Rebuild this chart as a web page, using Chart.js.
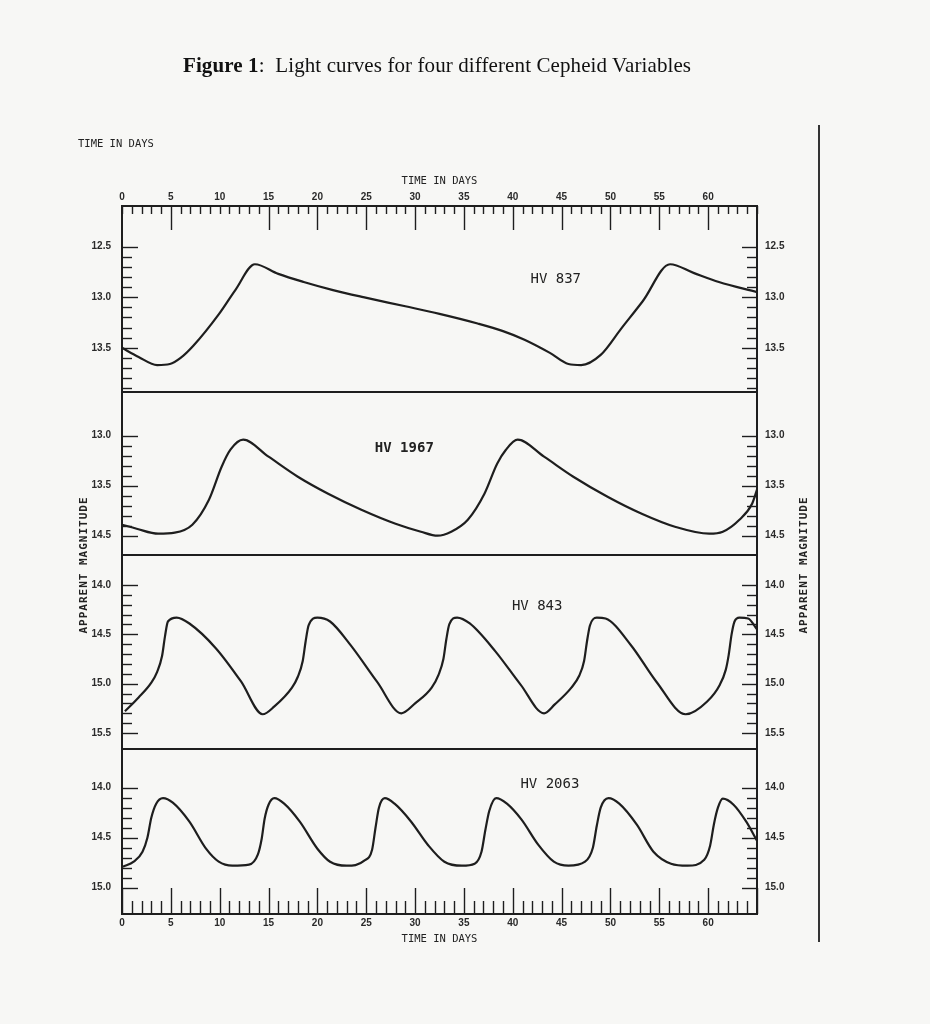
<!DOCTYPE html>
<html>
<head>
<meta charset="utf-8">
<script src="https://cdn.jsdelivr.net/npm/chart.js"></script>
<style>
  body { margin: 0; background: #f7f7f5; }
  #page { position: relative; width: 930px; height: 1024px; overflow: hidden; }
  #c { position: absolute; left: 0; top: 0; }
  .title { position: absolute; left: 183px; top: 53px; font-family: "Liberation Serif", serif; font-size: 21px; letter-spacing: 0.1px; color: #111; white-space: nowrap; }
  .corner { position: absolute; left: 78px; top: 137px; font: 10.5px "DejaVu Sans Mono", monospace; color: #222; }
  .vtitle { position: absolute; width: 150px; height: 14px; line-height: 14px; text-align: center; font: bold 11px "DejaVu Sans Mono", monospace; letter-spacing: 1px; color: #222; transform: rotate(-90deg); white-space: nowrap; }
  .rule { position: absolute; left: 818px; top: 125px; width: 1.5px; height: 817px; background: #333; }
</style>
</head>
<body>
<div id="page">
  <canvas id="c" width="930" height="1024"></canvas>
  <div class="title"><b>Figure 1</b>:&nbsp; Light curves for four different Cepheid Variables</div>
  <div class="corner">TIME IN DAYS</div>
  <div class="vtitle" style="left:9px; top:558px;">APPARENT MAGNITUDE</div>
  <div class="vtitle" style="left:729px; top:558px;">APPARENT MAGNITUDE</div>
  <div class="rule"></div>
</div>
<script>
// time axis
const DAY_MAX = 65.0;
const dayTicks = [0, 5, 10, 15, 20, 25, 30, 35, 40, 45, 50, 55, 60];
const topLongTicks = [5, 15, 20, 25, 30, 35, 40, 45, 50, 55, 60];

// star names (top to bottom)
const stars = ['HV 837', 'HV 1967', 'HV 843', 'HV 2063'];

// light curves (day, apparent magnitude)
const hv837Days = [0, 1.7, 3.6, 4.9, 6.0, 7.3, 9.9, 11.6, 13.6, 16.0, 18.6, 21.6, 24.7, 29.0, 32.5, 36.4, 39.0, 41.2, 43.8, 45.7, 47.0, 49.0, 51.1, 53.3, 56.1, 58.5, 61.1, 65.0];
const hv837Mag  = [13.50, 13.59, 13.67, 13.66, 13.60, 13.48, 13.17, 12.93, 12.675, 12.77, 12.85, 12.93, 13.00, 13.09, 13.165, 13.26, 13.335, 13.42, 13.55, 13.66, 13.67, 13.57, 13.31, 13.04, 12.675, 12.76, 12.85, 12.95];

const hv1967Days = [0, 1.5, 3.7, 5.4, 7.2, 8.9, 10.2, 11.1, 12.4, 15.0, 18.0, 21.1, 24.5, 28.0, 30.6, 32.3, 33.7, 35.4, 37.1, 38.4, 39.3, 40.5, 43.2, 46.2, 49.7, 53.2, 56.6, 60.1, 61.5, 63.2, 64.5, 65.0];
const hv1967Mag  = [13.89, 13.93, 13.98, 13.97, 13.89, 13.64, 13.31, 13.14, 13.04, 13.21, 13.41, 13.58, 13.74, 13.88, 13.96, 14.00, 13.96, 13.84, 13.58, 13.28, 13.14, 13.04, 13.21, 13.41, 13.61, 13.78, 13.91, 13.98, 13.96, 13.84, 13.68, 13.54];

const hv843Days = [0.3, 1.7, 3.0, 3.6, 4.1, 4.4, 4.7, 5.6, 6.9, 9.6, 12.2, 14.4,
                   15.6, 17.4, 18.0, 18.5, 18.8, 19.1, 20.0, 21.3, 23.4, 26.1, 28.6,
                   30.0, 31.7, 32.4, 32.9, 33.2, 33.5, 34.3, 35.6, 38.2, 40.8, 43.2,
                   44.3, 46.0, 46.8, 47.3, 47.6, 47.9, 48.6, 49.5, 52.1, 54.7, 57.7,
                   59.9, 61.2, 61.8, 62.1, 62.4, 62.7, 63.2, 64.1, 65.0];
const hv843Mag  = [15.28, 15.14, 14.99, 14.88, 14.72, 14.52, 14.37, 14.33, 14.39, 14.64, 14.98, 15.31,
                   15.23, 15.04, 14.93, 14.77, 14.57, 14.41, 14.33, 14.37, 14.61, 14.98, 15.30,
                   15.20, 15.04, 14.91, 14.75, 14.55, 14.40, 14.33, 14.39, 14.67, 15.01, 15.30,
                   15.21, 15.04, 14.92, 14.77, 14.57, 14.41, 14.33, 14.34, 14.61, 14.98, 15.31,
                   15.18, 15.01, 14.86, 14.71, 14.50, 14.37, 14.33, 14.34, 14.45];

const hv2063Days = [0.1, 1.2, 2.1, 2.6, 3.0, 3.5, 4.2, 5.2, 6.9, 8.6, 9.9, 11.3, 13.0,
                    13.9, 14.3, 14.6, 15.0, 15.6, 16.6, 18.2, 20.0, 21.3, 23.0, 24.8,
                    25.6, 25.95, 26.3, 26.9, 27.9, 29.6, 31.3, 33.0, 34.8, 36.1,
                    36.8, 37.2, 37.6, 38.3, 39.4, 40.9, 42.6, 44.2, 45.7, 47.4,
                    48.2, 48.6, 49.0, 49.8, 50.9, 52.7, 54.4, 56.2, 57.9, 59.6,
                    60.2, 60.6, 61.0, 61.5, 62.6, 63.9, 65.0];
const hv2063Mag  = [14.79, 14.74, 14.64, 14.50, 14.30, 14.16, 14.105, 14.15, 14.34, 14.61, 14.74, 14.78, 14.77,
                    14.67, 14.51, 14.31, 14.17, 14.105, 14.16, 14.34, 14.61, 14.74, 14.78, 14.73,
                    14.62, 14.40, 14.20, 14.105, 14.16, 14.34, 14.57, 14.74, 14.78, 14.76,
                    14.64, 14.42, 14.23, 14.105, 14.16, 14.32, 14.57, 14.74, 14.78, 14.74,
                    14.60, 14.38, 14.20, 14.105, 14.16, 14.37, 14.64, 14.76, 14.78, 14.72,
                    14.58, 14.36, 14.20, 14.11, 14.17, 14.34, 14.53];

// magnitude tick values and printed labels per panel (the original prints 14.5 for 14.0 in panel 2)
const magTicks  = [[12.5, 13.0, 13.5], [13.0, 13.5, 14.0], [14.0, 14.5, 15.0, 15.5], [14.0, 14.5, 15.0]];
const magLabels = [['12.5', '13.0', '13.5'], ['13.0', '13.5', '14.5'], ['14.0', '14.5', '15.0', '15.5'], ['14.0', '14.5', '15.0']];

const daySets = [hv837Days, hv1967Days, hv843Days, hv2063Days];
const magSets = [hv837Mag, hv1967Mag, hv843Mag, hv2063Mag];

// panel magnitude windows, panel heights and minor tick spans
const panelMin = [12.10, 12.563, 13.696, 13.613];
const panelMax = [13.936, 14.193, 15.662, 15.263];
const panelH = [186, 163, 194, 165];
const minorSpan = [[12.5, 13.9], [13.0, 14.0], [14.0, 15.5], [14.0, 15.0]];
const nameAt = [[44.4, 12.82], [28.9, 13.13], [42.5, 14.22], [43.8, 13.97]];

const INK = '#1e1e1e';
const TICK_FONT = { family: 'Liberation Sans', size: 10, weight: 'bold' };
const TITLE_FONT = { family: 'DejaVu Sans Mono', size: 10.5 };

const scales = {
  x: {
    type: 'linear', position: 'bottom', min: 0, max: DAY_MAX,
    grid: { display: false, drawTicks: false },
    border: { display: true, color: INK, width: 2 },
    afterBuildTicks: s => { s.ticks = dayTicks.map(v => ({ value: v })); },
    afterFit: s => { s.height = 38; },
    ticks: { font: TICK_FONT, color: '#2a2a2a', padding: 3, autoSkip: false, maxRotation: 0, callback: v => String(v) },
    title: { display: true, text: 'TIME IN DAYS', font: TITLE_FONT, color: '#222', padding: { top: 0, bottom: 6 } }
  },
  xTop: {
    type: 'linear', position: 'top', min: 0, max: DAY_MAX,
    grid: { display: false, drawTicks: false },
    border: { display: true, color: INK, width: 2 },
    afterBuildTicks: s => { s.ticks = dayTicks.map(v => ({ value: v })); },
    afterFit: s => { s.height = 38; },
    ticks: { font: TICK_FONT, color: '#2a2a2a', padding: 3, autoSkip: false, maxRotation: 0, callback: v => String(v) },
    title: { display: true, text: 'TIME IN DAYS', font: TITLE_FONT, color: '#222', padding: { top: 7, bottom: 2 } }
  }
};

stars.forEach((name, i) => {
  const common = {
    type: 'linear', reverse: true, min: panelMin[i], max: panelMax[i],
    stackWeight: panelH[i],
    grid: { display: false, drawTicks: false },
    border: { display: true, color: INK, width: 2 },
    afterBuildTicks: s => { s.ticks = magTicks[i].map(v => ({ value: v })); },
    ticks: { font: TICK_FONT, color: '#2a2a2a', autoSkip: false, callback: (v, k) => magLabels[i][k] }
  };
  scales['y' + (i + 1)] = Object.assign({}, common, {
    position: 'left', stack: 'mag', weight: 4 - i,
    afterFit: s => { s.width = 62; },
    ticks: Object.assign({}, common.ticks, { padding: 11 })
  });
  scales['r' + (i + 1)] = Object.assign({}, common, {
    position: 'right', stack: 'mag', weight: i + 1,
    afterFit: s => { s.width = 35; },
    ticks: Object.assign({}, common.ticks, { padding: 8 })
  });
});

function seg(ctx, x1, y1, x2, y2) {
  ctx.beginPath(); ctx.moveTo(x1, y1); ctx.lineTo(x2, y2); ctx.stroke();
}

// inward tick marks, panel separators and star names
const frame = {
  id: 'frame',
  afterDatasetsDraw(chart) {
    const ctx = chart.ctx, a = chart.chartArea;
    ctx.save();
    ctx.strokeStyle = INK;
    ctx.lineWidth = 1.4;
    const xs = chart.scales.x;
    for (let d = 0; d <= Math.floor(DAY_MAX); d++) {
      const px = Math.round(xs.getPixelForValue(d)) + 0.5;
      seg(ctx, px, a.top, px, a.top + (topLongTicks.includes(d) ? 24 : 8));
      seg(ctx, px, a.bottom, px, a.bottom - (d % 5 === 0 ? 26 : 13));
    }
    stars.forEach((name, i) => {
      const ys = chart.scales['y' + (i + 1)];
      const lo = Math.round(minorSpan[i][0] * 10), hi = Math.round(minorSpan[i][1] * 10);
      for (let k = lo; k <= hi; k++) {
        const py = Math.round(ys.getPixelForValue(k / 10)) + 0.5;
        const major = k % 5 === 0;
        seg(ctx, a.left, py, a.left + (major ? 16 : 10), py);
        seg(ctx, a.right, py, a.right - (major ? 15 : 10), py);
      }
      if (i < stars.length - 1) {
        ctx.lineWidth = 1.8;
        seg(ctx, a.left, ys.bottom, a.right, ys.bottom);
        ctx.lineWidth = 1.4;
      }
      ctx.fillStyle = '#222';
      ctx.font = (i === 1 ? 'bold ' : '') + '14px "DejaVu Sans Mono"';
      ctx.textAlign = 'center';
      ctx.textBaseline = 'middle';
      ctx.fillText(name, xs.getPixelForValue(nameAt[i][0]), ys.getPixelForValue(nameAt[i][1]));
    });
    ctx.restore();
  }
};

new Chart(document.getElementById('c'), {
  type: 'line',
  data: {
    datasets: stars.map((name, i) => ({
      label: name,
      data: daySets[i].map((d, k) => ({ x: d, y: magSets[i][k] })),
      xAxisID: 'x',
      yAxisID: 'y' + (i + 1),
      borderColor: INK,
      borderWidth: 2.2,
      pointRadius: 0,
      fill: false,
      cubicInterpolationMode: 'monotone'
    }))
  },
  options: {
    responsive: false,
    animation: false,
    devicePixelRatio: 1,
    layout: { padding: { top: 168, bottom: 72, left: 60, right: 138 } },
    plugins: { legend: { display: false }, tooltip: { enabled: false } },
    scales: scales
  },
  plugins: [frame]
});
</script>
</body>
</html>
